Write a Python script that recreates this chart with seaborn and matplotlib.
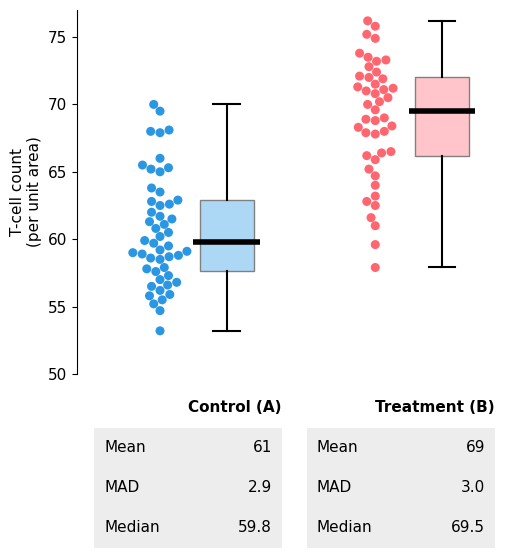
import numpy as np
import pandas as pd
import seaborn as sns
import matplotlib.pyplot as plt
from matplotlib.patches import Rectangle

# === DANE ===
control = [70.0, 69.5, 68.1, 67.9, 68.0, 66.0, 65.5, 65.2, 65.0, 65.3, 63.8, 63.5,
           62.9, 62.8, 62.6, 62.5, 62.0, 61.7, 61.5, 61.3, 61.1, 60.8, 60.5, 60.2,
           59.9, 59.7, 59.5, 59.2, 59.1, 59.0, 58.9, 58.8, 58.7, 58.5, 58.6, 57.9,
           57.8, 57.6, 57.3, 57.0, 56.8, 56.6, 56.5, 56.2, 55.9, 55.8, 55.5, 55.2,
           54.7, 53.2]
treatment = [76.2, 75.8, 75.2, 74.9, 73.8, 73.5, 73.3, 73.2, 72.8, 72.4, 72.1, 72.0,
             71.9, 71.5, 71.3, 71.2, 71.1, 71.0, 70.8, 70.5, 70.2, 70.0, 69.6, 69.0,
             68.9, 68.8, 68.4, 68.3, 68.0, 67.9, 67.8, 66.5, 66.4, 66.2, 65.9, 65.2,
             64.7, 64.0, 63.2, 62.8, 62.5, 61.6, 61.0, 59.6, 57.9]
groups = ["Control (A)", "Treatment (B)"]
stats_labels = ["Mean", "MAD", "Median"]
stats_values = [["61", "2.9", "59.8"], ["69", "3.0", "69.5"]]
point_colors = ["#2B97E3", "#FF6670"]
box_colors = ["#ADD8F5", "#FFC5CA"]

df = pd.DataFrame({"pos": [0.0] * len(control) + [1.0] * len(treatment),
                   "value": control + treatment})

fig = plt.figure(figsize=(5.13, 5.59), dpi=100)
ax = fig.add_axes([0.15, 0.331, 0.85, 0.651])

sns.swarmplot(data=df, x="pos", y="value", hue="pos", native_scale=True,
              palette=point_colors, size=6.5, legend=False, ax=ax)

for i, vals in enumerate([control, treatment]):
    v = np.array(vals)
    q1, med, q3 = np.percentile(v, [25, 50, 75])
    pos = i + 0.31
    ax.boxplot([v], positions=[pos], widths=0.25, whis=(0, 100), patch_artist=True,
               showcaps=True, manage_ticks=False,
               boxprops=dict(facecolor=box_colors[i], edgecolor="#808080"),
               medianprops=dict(color="black", linewidth=1.8),
               whiskerprops=dict(color="black", linewidth=1.5),
               capprops=dict(color="black", linewidth=1.5))
    ax.hlines(float(stats_values[i][2]), pos - 0.155, pos + 0.155, color="black", linewidth=4, zorder=5)

ax.set_xlim(-0.386, 1.64)
ax.set_ylim(50, 77)
ax.set_xticks([])
ax.set_xlabel("")
ax.set_ylabel("T-cell count\n(per unit area)", fontsize=11)
ax.tick_params(axis="y", labelsize=11)
for s in ["top", "right", "bottom"]:
    ax.spines[s].set_visible(False)

# === TABELE ===
W, H = 513, 559
lefts = [94, 307]
for i, g in enumerate(groups):
    x0 = lefts[i]
    fig.text((x0 + 188) / W, 1 - 407 / H, g, ha="right", va="center",
             fontsize=11, fontweight="bold")
    fig.patches.append(Rectangle((x0 / W, 1 - 548 / H), 188 / W, 120 / H,
                                 transform=fig.transFigure, facecolor="#EDEDED",
                                 edgecolor="none"))
    for j, (lab, val) in enumerate(zip(stats_labels, stats_values[i])):
        y = 1 - (447 + 40.5 * j) / H
        fig.text((x0 + 10) / W, y, lab, ha="left", va="center", fontsize=11)
        fig.text((x0 + 178) / W, y, val, ha="right", va="center", fontsize=11)

plt.savefig("out.png", dpi=100)
plt.close()
